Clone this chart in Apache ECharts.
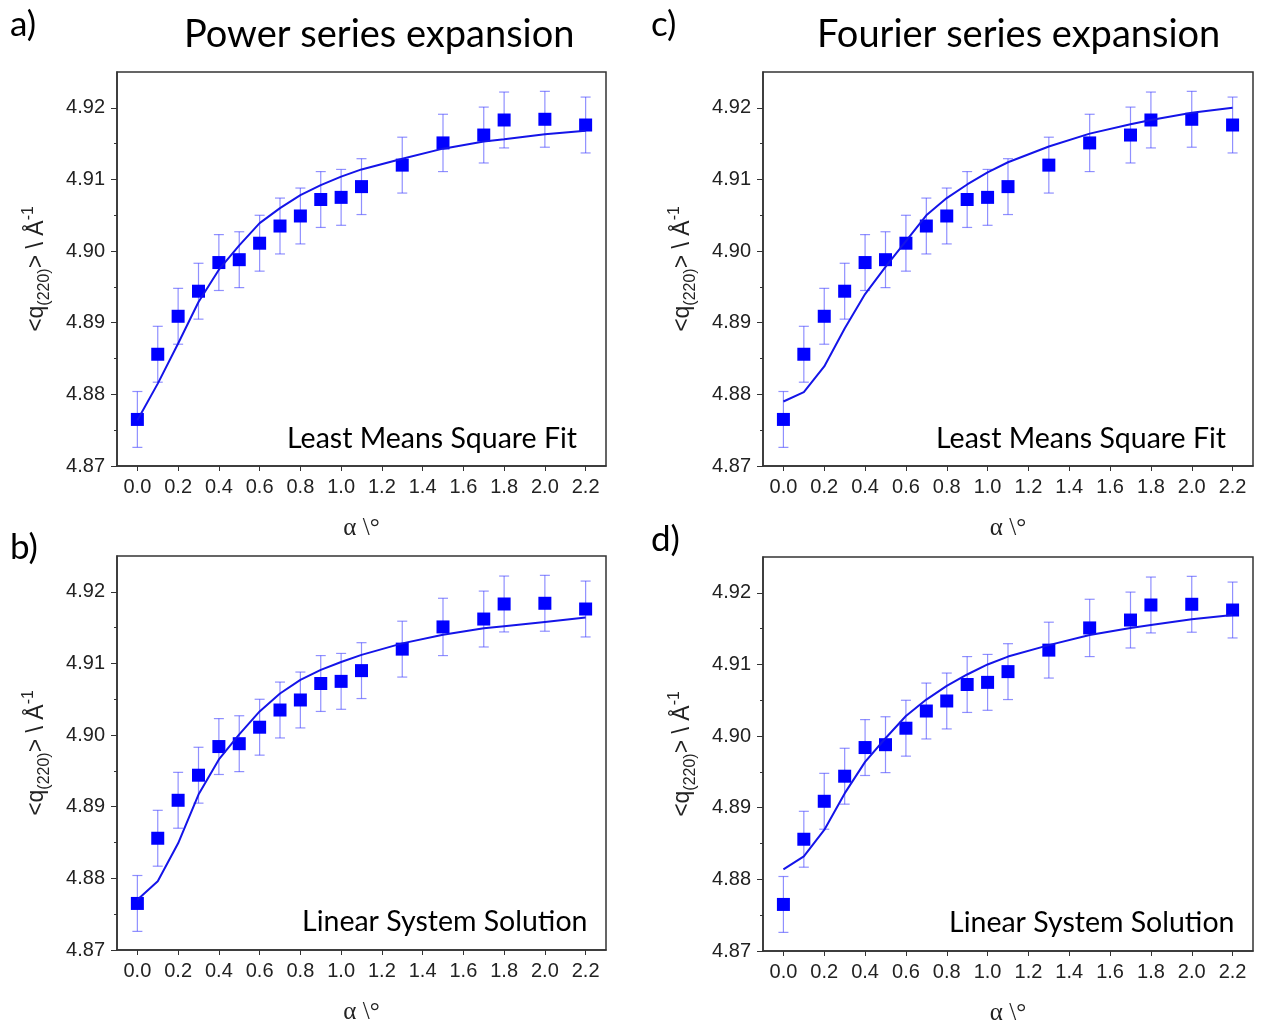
<!DOCTYPE html>
<html>
<head>
<meta charset="utf-8">
<script src="https://cdn.jsdelivr.net/npm/echarts@6/dist/echarts.min.js"></script>
<style>
html, body { margin: 0; background: #fff; }
#chart { width: 1268px; height: 1030px; }
</style>
</head>
<body>
<div id="chart"></div>
<script>
// measured points (same in all four panels)
const alpha = [0, 0.1, 0.2, 0.3, 0.4, 0.5, 0.6, 0.7, 0.8, 0.9, 1.0, 1.1, 1.3, 1.5, 1.7, 1.8, 2.0, 2.2];
const qMean = [4.8765, 4.8856, 4.8909, 4.8944, 4.8984, 4.8988, 4.9011, 4.9035, 4.9049, 4.9072, 4.9075, 4.9090, 4.9120, 4.9151, 4.9162, 4.9183, 4.9184, 4.9176];
const qErr = [0.0039, 0.0039, 0.0039, 0.0039, 0.0039, 0.0039, 0.0039, 0.0039, 0.0039, 0.0039, 0.0039, 0.0039, 0.0039, 0.0040, 0.0039, 0.0039, 0.0039, 0.0039];

// fitted curves, evaluated at alpha
const fitPowerLMS = [4.8764, 4.8815, 4.8871, 4.8929, 4.8974, 4.9008, 4.9039, 4.9060, 4.9078, 4.9092, 4.9104, 4.9114, 4.9129, 4.9143, 4.9153, 4.9156, 4.9163, 4.9168];
const fitFourierLMS = [4.8790, 4.8803, 4.8839, 4.8892, 4.8940, 4.8978, 4.9014, 4.9050, 4.9074, 4.9093, 4.9110, 4.9124, 4.9146, 4.9164, 4.9177, 4.9183, 4.9193, 4.9200];
const fitPowerLSS = [4.8770, 4.8796, 4.8849, 4.8917, 4.8966, 4.9001, 4.9033, 4.9058, 4.9077, 4.9091, 4.9102, 4.9112, 4.9128, 4.9140, 4.9149, 4.9152, 4.9158, 4.9164];
const fitFourierLSS = [4.8814, 4.8832, 4.8869, 4.8920, 4.8964, 4.8997, 4.9028, 4.9051, 4.9070, 4.9086, 4.9100, 4.9111, 4.9127, 4.9141, 4.9151, 4.9155, 4.9163, 4.9169];

const xTicks = [0, 0.2, 0.4, 0.6, 0.8, 1.0, 1.2, 1.4, 1.6, 1.8, 2.0, 2.2];
const yTicks = [4.87, 4.88, 4.89, 4.90, 4.91, 4.92];
const yMinorTicks = [4.875, 4.885, 4.895, 4.905, 4.915];

const panels = [
  { grid: { left: 117, top: 72, width: 489, height: 394 }, fit: fitPowerLMS },
  { grid: { left: 763, top: 72, width: 490, height: 394 }, fit: fitFourierLMS },
  { grid: { left: 117, top: 556, width: 489, height: 394 }, fit: fitPowerLSS },
  { grid: { left: 763, top: 557, width: 490, height: 394 }, fit: fitFourierLSS }
];

const blue = '#0000ff';
const axisColor = '#333';
const labelFont = { fontFamily: 'Liberation Sans', fontSize: 20, color: '#222' };

let grids = [], xAxes = [], yAxes = [], series = [];

panels.forEach(function (p, i) {
  grids.push(Object.assign({ show: true, borderColor: axisColor, borderWidth: 1.5 }, p.grid));

  xAxes.push({
    type: 'value', gridIndex: i, min: -0.1, max: 2.3,
    name: 'α \\°', nameLocation: 'middle', nameGap: 50,
    nameTextStyle: { fontFamily: 'Liberation Serif', fontSize: 25, color: '#222' },
    axisLine: { onZero: false, lineStyle: { color: axisColor, width: 1.5 } },
    axisTick: { customValues: xTicks, length: 5, lineStyle: { color: axisColor } },
    axisLabel: Object.assign({ customValues: xTicks, margin: 11, formatter: function (v) { return v.toFixed(1); } }, labelFont),
    splitLine: { show: false }
  });

  yAxes.push({
    type: 'value', gridIndex: i, position: 'left', min: 4.87, max: 4.925,
    name: '{a|<q}{sub|(220)}{a|> \\ Å}{sup|-1}',
    nameLocation: 'middle', nameRotate: 90, nameGap: 64,
    nameTextStyle: {
      rich: {
        a: { fontFamily: 'Liberation Sans', fontSize: 23, color: '#222', lineHeight: 32, verticalAlign: 'middle' },
        sub: { fontFamily: 'Liberation Sans', fontSize: 16, color: '#222', lineHeight: 16, verticalAlign: 'bottom' },
        sup: { fontFamily: 'Liberation Sans', fontSize: 16, color: '#222', lineHeight: 16, verticalAlign: 'top' }
      }
    },
    axisLine: { onZero: false, lineStyle: { color: axisColor, width: 1.5 } },
    axisTick: { customValues: yTicks, length: 6, lineStyle: { color: axisColor } },
    axisLabel: Object.assign({ customValues: yTicks, margin: 12, formatter: function (v) { return v.toFixed(2); } }, labelFont),
    splitLine: { show: false }
  });
  // overlay axis for the short minor ticks
  yAxes.push({
    type: 'value', gridIndex: i, position: 'left', min: 4.87, max: 4.925,
    axisLine: { show: false, onZero: false },
    axisTick: { show: true, customValues: yMinorTicks, length: 3, lineStyle: { color: axisColor } },
    axisLabel: { show: false },
    splitLine: { show: false }
  });

  series.push({
    type: 'custom', xAxisIndex: i, yAxisIndex: 2 * i, z: 1,
    data: alpha.map(function (a, k) { return [a, qMean[k] - qErr[k], qMean[k] + qErr[k]]; }),
    renderItem: function (params, api) {
      const lo = api.coord([api.value(0), api.value(1)]);
      const hi = api.coord([api.value(0), api.value(2)]);
      const st = { stroke: 'rgba(70,70,255,0.6)', lineWidth: 1.2 };
      return {
        type: 'group',
        children: [
          { type: 'line', shape: { x1: lo[0], y1: lo[1], x2: hi[0], y2: hi[1] }, style: st },
          { type: 'line', shape: { x1: lo[0] - 5, y1: lo[1], x2: lo[0] + 5, y2: lo[1] }, style: st },
          { type: 'line', shape: { x1: hi[0] - 5, y1: hi[1], x2: hi[0] + 5, y2: hi[1] }, style: st }
        ]
      };
    }
  });
  series.push({
    type: 'scatter', xAxisIndex: i, yAxisIndex: 2 * i, z: 2,
    symbol: 'rect', symbolSize: 13, itemStyle: { color: blue, opacity: 1 },
    data: alpha.map(function (a, k) { return [a, qMean[k]]; })
  });
  series.push({
    type: 'line', xAxisIndex: i, yAxisIndex: 2 * i, z: 3,
    showSymbol: false, symbol: 'none', lineStyle: { color: '#1414e8', width: 2 },
    data: alpha.map(function (a, k) { return [a, p.fit[k]]; })
  });
});

const txt = function (text, left, top, size) {
  return {
    type: 'text', left: left, top: top,
    style: { text: text, fontFamily: 'Lato', fontSize: size, fill: '#000' }
  };
};

const chart = echarts.init(document.getElementById('chart'));
chart.setOption({
  animation: false,
  grid: grids,
  xAxis: xAxes,
  yAxis: yAxes,
  series: series,
  graphic: [
    txt('a)', 10, 7, 35),
    txt('c)', 651, 7, 35),
    txt('b)', 10, 530, 35),
    txt('d)', 651, 522, 35),
    txt('Power series expansion', 184, 16, 38),
    txt('Fourier series expansion', 817, 16, 38),
    txt('Least Means Square Fit', 287, 424, 28.5),
    txt('Least Means Square Fit', 936, 424, 28.5),
    txt('Linear System Solution', 302, 907, 28.5),
    txt('Linear System Solution', 949, 908, 28.5)
  ]
});
</script>
</body>
</html>
